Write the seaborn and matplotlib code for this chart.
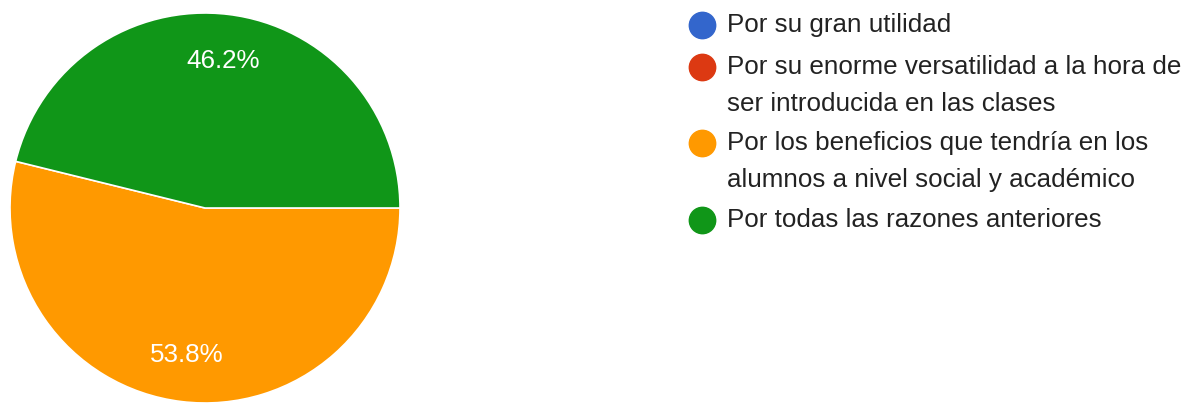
import matplotlib
matplotlib.use("Agg")
import matplotlib.pyplot as plt
import seaborn as sns

# datos de la encuesta
categorias = ['Por su gran utilidad',
              'Por su enorme versatilidad a la hora de\nser introducida en las clases',
              'Por los beneficios que tendría en los\nalumnos a nivel social y académico',
              'Por todas las razones anteriores']
respuestas = [0, 0, 7, 6]
colores = ['#3366cc', '#dc3912', '#ff9900', '#109618']

sns.set_theme(style='white')
plt.rcParams['font.family'] = ['Liberation Sans', 'DejaVu Sans']

W, H = 1187, 403
fig = plt.figure(figsize=(W / 100, H / 100), dpi=100)
fig.patch.set_facecolor('white')

# pie: centro (205, 208) px, radio 195 px
ax = fig.add_axes([10 / W, 0 / H, 390 / W, 390 / H])
paleta = sns.color_palette(colores)


def etiqueta(p):
    return f'{p:.1f}%' if p > 0.5 else ''


wedges, textos, autotextos = ax.pie(respuestas, colors=paleta, startangle=0, counterclock=False,
                                    autopct=etiqueta, pctdistance=0.76,
                                    wedgeprops=dict(edgecolor='white', linewidth=1.2),
                                    textprops=dict(color='white', fontsize=18.7))
for w in wedges:
    w.set_clip_on(False)
ax.set_xlim(-1, 1)
ax.set_ylim(-1, 1)
ax.set_aspect('equal')
ax.axis('off')

# leyenda a mano (círculo + texto alineado a la primera línea)
y_items = [25, 67, 143, 220]
for cat, col, y in zip(categorias, colores, y_items):
    fig.lines.append(plt.Line2D([702 / W], [1 - y / H], marker='o', markersize=19,
                                color=col, transform=fig.transFigure, linestyle='none'))
    for i, linea in enumerate(cat.split('\n')):
        fig.text(727 / W, 1 - (y + i * 37) / H, linea, fontsize=18.7, color='#222222',
                 va='center', ha='left')

plt.savefig('out.png', dpi=100, facecolor='white')
